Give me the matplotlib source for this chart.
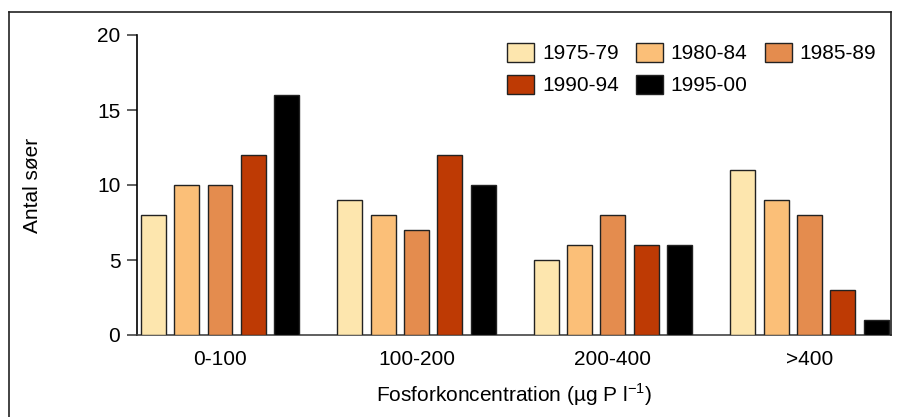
import matplotlib
matplotlib.use("Agg")
import matplotlib.pyplot as plt
from matplotlib.lines import Line2D
import numpy as np

plt.rcParams['font.family'] = ['Liberation Sans', 'DejaVu Sans']

categories = ["0-100", "100-200", "200-400", ">400"]
periods = ["1975-79", "1980-84", "1985-89", "1990-94", "1995-00"]
counts = {
    "1975-79": [8, 9, 5, 11],
    "1980-84": [10, 8, 6, 9],
    "1985-89": [10, 7, 8, 8],
    "1990-94": [12, 12, 6, 3],
    "1995-00": [16, 10, 6, 1],
}
colors = ["#FDE6AE", "#FBBF78", "#E48C4E", "#BE3A04", "#000000"]
yticks = [0, 5, 10, 15, 20]

FS = 15
W, H = 903, 417
fig = plt.figure(figsize=(W / 100, H / 100), dpi=100)
ax = fig.add_axes([137 / W, (H - 335) / H, (891 - 137) / W, 300 / H])

x = np.arange(len(categories))
step = 0.1695
width = 0.127
bars = []
for i, (p, c) in enumerate(zip(periods, colors)):
    b = ax.bar(x + (i - 2) * step, counts[p], width=width, color=c,
               edgecolor="#222222", linewidth=1.0, label=p, zorder=3)
    bars.append(b)

ax.set_xlim(-0.4224, 3.415)
ax.set_ylim(0, 20)
ax.set_yticks(yticks)
ax.set_xticks(x)
ax.set_xticklabels(categories)
ax.tick_params(axis="y", length=7, width=1.2, pad=5, labelsize=FS, color="#444444")
ax.tick_params(axis="x", length=0, pad=11, labelsize=FS)
for s in ["top", "right"]:
    ax.spines[s].set_visible(False)
ax.spines["left"].set_linewidth(1.2)
ax.spines["bottom"].set_linewidth(1.2)
ax.spines["bottom"].set_color("#444444")

ax.set_ylabel("Antal søer", fontsize=FS)
ax.yaxis.set_label_coords(-0.126, 0.5)
ax.set_xlabel("Fosforkoncentration (µg P l$^{\\mathregular{-1}}$)", fontsize=FS, labelpad=9)

# legend filled row by row (3 columns, 2 rows)
order = [0, 3, 1, 4, 2]
fig.legend([bars[k] for k in order], [periods[k] for k in order],
           loc="upper left", bbox_to_anchor=(507 / W, (H - 43) / H), ncol=3,
           frameon=False, fontsize=FS, handlelength=1.3, handleheight=1.0,
           handletextpad=0.38, columnspacing=0.82, labelspacing=0.55,
           borderpad=0, borderaxespad=0)

# outer frame
frame_kw = dict(transform=fig.transFigure, color="#222222", linewidth=1.2)
fig.add_artist(Line2D([9 / W, 891 / W], [(H - 12) / H, (H - 12) / H], **frame_kw))
fig.add_artist(Line2D([9 / W, 9 / W], [(H - 12) / H, 0], **frame_kw))
fig.add_artist(Line2D([891 / W, 891 / W], [(H - 12) / H, (H - 335) / H], **frame_kw))

fig.savefig("out.png", dpi=100)
